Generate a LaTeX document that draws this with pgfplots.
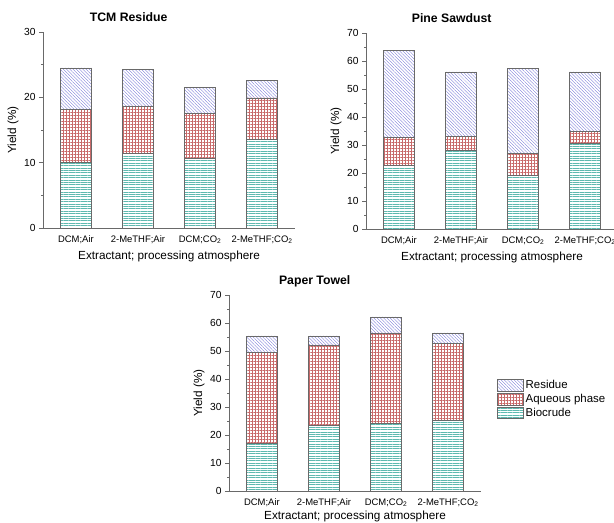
\documentclass[border=0pt]{standalone}
\usepackage{fontspec}
\setmainfont{Liberation Sans}
\usepackage{pgfplots}
\pgfplotsset{compat=1.18}
\usetikzlibrary{patterns.meta}
\definecolor{rescol}{RGB}{120,120,215}
\definecolor{aqcol}{RGB}{200,105,105}
\definecolor{biocol}{RGB}{95,185,175}
\definecolor{edgecol}{RGB}{105,105,105}
\pgfplotsset{
  resstyle/.style={draw=edgecol, line width=0.6bp, pattern={Lines[angle=-45,distance=2.3bp,line width=0.35bp]}, pattern color=rescol},
  aqstyle/.style={draw=edgecol, line width=0.6bp, pattern={Hatch[angle=0,distance=3bp,line width=0.35bp]}, pattern color=aqcol},
  biostyle/.style={draw=edgecol, line width=0.6bp, pattern={Lines[angle=0,distance=2.4bp,line width=0.35bp]}, pattern color=biocol},
  yieldaxis/.style={
    scale only axis, width=252bp, height=196bp,
    ybar stacked, bar width=31bp,
    axis x line=bottom, axis y line=left,
    axis line style={-, edgecol, line width=0.8bp},
    xmin=-0.53, xmax=3.53, xtick={0,1,2,3},
    xticklabels={DCM;Air, 2-MeTHF;Air, DCM;CO\textsubscript{2}, 2-MeTHF;CO\textsubscript{2}},
    x tick style={draw=none},
    ymin=0, minor y tick num=1,
    y tick style={edgecol, line width=0.6bp},
    tick align=outside, major tick length=4bp, minor tick length=2bp,
    xlabel={Extractant; processing atmosphere}, ylabel={Yield (\%)},
    /pgf/number format/assume math mode=true,
    yticklabel style={font=\fontsize{10.3}{11}\selectfont},
    xticklabel style={font=\fontsize{9.5}{10}\selectfont},
    every axis x label/.style={at={(rel axis cs:0.5,0)}, anchor=base, yshift=-32bp, font=\fontsize{11.8}{12}\selectfont},
    every axis y label/.style={at={([xshift=-30bp]rel axis cs:0,0.5)}, rotate=90, anchor=center, font=\fontsize{11.8}{12}\selectfont},
    title style={font=\bfseries\fontsize{12.3}{13}\selectfont, at={(rel axis cs:0.34,1)}, anchor=base, yshift=4.5bp},
  }
}
\begin{document}
\begin{tikzpicture}
\path[use as bounding box] (0,0) rectangle (614bp,523bp);
% TCM Residue
\begin{axis}[yieldaxis, at={(43bp,295bp)}, anchor=south west, ymax=30, ytick={0,10,20,30}, title={TCM Residue}]
\addplot[biostyle] coordinates {(0,10.0) (1,11.5) (2,10.6) (3,13.6)};
\addplot[aqstyle] coordinates {(0,8.2) (1,7.2) (2,6.9) (3,6.3)};
\addplot[resstyle] coordinates {(0,6.3) (1,5.6) (2,4.0) (3,2.7)};
\end{axis}
% Pine Sawdust
\begin{axis}[yieldaxis, at={(366bp,294bp)}, anchor=south west, ymax=70, ytick={0,10,...,70}, title={Pine Sawdust}]
\addplot[biostyle] coordinates {(0,22.8) (1,28.0) (2,19.1) (3,30.7)};
\addplot[aqstyle] coordinates {(0,9.8) (1,5.0) (2,7.9) (3,4.3)};
\addplot[resstyle] coordinates {(0,31.3) (1,23.1) (2,30.4) (3,21.1)};
\end{axis}
% Paper Towel
\begin{axis}[yieldaxis, at={(229bp,32bp)}, anchor=south west, ymax=70, ytick={0,10,...,70}, title={Paper Towel},
  xlabel style={yshift=4bp},
  reverse legend,
  legend style={draw=none, fill=none, at={(1.063,0.574)}, anchor=north west, inner sep=0pt, row sep=0bp,
    font=\fontsize{11.5}{12}\selectfont, cells={anchor=west}},
  legend image code/.code={\draw[#1] (0bp,-5.5bp) rectangle (26bp,6bp);}]
\addplot[biostyle] coordinates {(0,16.9) (1,23.4) (2,24.2) (3,25.2)};
\addlegendentry{Biocrude}
\addplot[aqstyle] coordinates {(0,32.7) (1,28.8) (2,32.3) (3,27.6)};
\addlegendentry{Aqueous phase}
\addplot[resstyle] coordinates {(0,5.8) (1,3.2) (2,5.7) (3,3.7)};
\addlegendentry{Residue}
\end{axis}
\end{tikzpicture}
\end{document}
